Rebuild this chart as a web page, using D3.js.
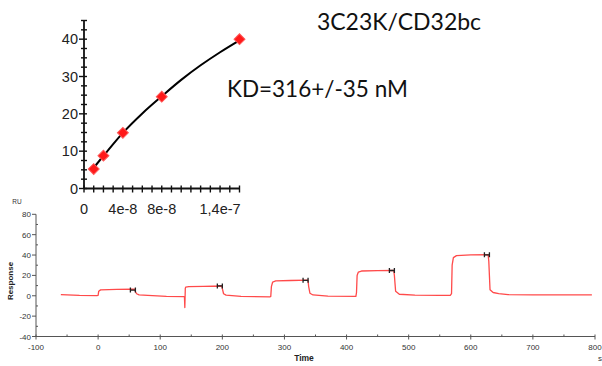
<!DOCTYPE html>
<html>
<head>
<meta charset="utf-8">
<script src="https://cdn.jsdelivr.net/npm/d3@7/dist/d3.min.js"></script>
<style>
  html, body { margin: 0; padding: 0; background: #fff; }
  svg { display: block; }
</style>
</head>
<body>
<script>
// Steady-state affinity: concentration (M) vs equilibrium response (RU)
const concentrations = [1e-8, 2e-8, 4e-8, 8e-8, 1.6e-7];
const responses = [5.2, 8.8, 14.9, 24.6, 40.0];

// Fitted steady-state curve
const fitConc = [0.9e-8, 1e-8, 2e-8, 3e-8, 4e-8, 6e-8, 8e-8, 1e-7, 1.2e-7, 1.4e-7, 1.6e-7];
const fitResp = [4.8, 5.3, 8.7, 11.9, 14.9, 20.1, 24.7, 29.1, 33.0, 36.5, 39.7];

// Affinity axis ticks
const affXTicks = [0, 4e-8, 8e-8, 1.4e-7];
const affXTickLabels = ["0", "4e-8", "8e-8", "1,4e-7"];
const affYTicks = [0, 10, 20, 30, 40];

// Sensorgram trace: time (s) and response (RU)
const sensTime = [-60, -30, -2, 0, 1, 4, 30, 55, 59, 60, 62, 66, 80, 110, 138, 139, 139.6, 140.4, 141, 146, 170, 199, 200, 202, 206, 230, 277, 278, 279, 281, 286, 310, 338, 339, 341, 346, 370, 415, 416, 417, 419, 424, 450, 476, 477, 479, 485, 510, 550, 567, 569, 570, 572, 577, 600, 628, 629, 631, 636, 645, 660, 700, 795];
const sensResp = [1.2, 0.3, 0.2, 0.4, 4.5, 5.8, 6.2, 6.6, 6.4, 4.0, 2.0, 0.8, 0.3, -0.6, -0.8, -1.0, -11.5, 7.5, 8.4, 9.0, 9.3, 9.6, 7.0, 2.0, 0.6, -0.6, -1.0, -0.6, 9.0, 13.5, 14.6, 15.0, 15.3, 9.0, 2.5, 0.8, -0.4, -0.6, 3.0, 20.0, 23.3, 24.3, 24.6, 24.9, 20.0, 4.5, 1.5, 0.6, 0.4, 0.3, 2.0, 30.0, 37.5, 39.4, 40.1, 40.4, 34.0, 6.0, 3.2, 2.2, 1.2, 0.9, 0.8];

// Report-point markers
const markTime = [56, 196, 334, 473, 626];
const markResp = [5.6, 9.7, 15.2, 24.8, 40.2];

// Sensorgram axis ticks
const sensXTicks = [-100, 0, 100, 200, 300, 400, 500, 600, 700, 800];
const sensYTicks = [-40, -20, 0, 20, 40, 60, 80];

const W = 602, H = 366;
const svg = d3.select("body").append("svg").attr("width", W).attr("height", H);
svg.append("rect").attr("width", W).attr("height", H).attr("fill", "#fff");

/* ---------- affinity plot ---------- */
const xA = d3.scaleLinear().domain([0, 1.6e-7]).range([84, 239.5]);
const yA = d3.scaleLinear().domain([0, 45]).range([188.5, 20.5]);
const aff = svg.append("g");
const axisColor = "#111";

// axis lines
aff.append("line").attr("x1", xA(0)).attr("x2", xA(0)).attr("y1", yA(45)).attr("y2", yA(0))
  .attr("stroke", axisColor).attr("stroke-width", 1.8);
aff.append("line").attr("x1", xA(0)).attr("x2", xA(1.6e-7)).attr("y1", yA(0)).attr("y2", yA(0))
  .attr("stroke", axisColor).attr("stroke-width", 1.8);

// y ticks: every 2.5, major every 10
d3.range(0, 45.01, 2.5).forEach(v => {
  const major = v % 10 === 0;
  aff.append("line")
    .attr("x1", xA(0) - (major ? 5 : 3)).attr("x2", xA(0) + 3)
    .attr("y1", yA(v)).attr("y2", yA(v))
    .attr("stroke", axisColor).attr("stroke-width", 1.4);
});
// x ticks: every 1e-8
d3.range(0, 17).forEach(i => {
  const v = i * 1e-8;
  aff.append("line")
    .attr("x1", xA(v)).attr("x2", xA(v))
    .attr("y1", yA(0) - 3).attr("y2", yA(0) + 4)
    .attr("stroke", axisColor).attr("stroke-width", 1.4);
});

aff.selectAll("text.yl").data(affYTicks).enter().append("text")
  .attr("x", 78).attr("y", d => yA(d) + 5)
  .attr("text-anchor", "end")
  .attr("font-family", "Liberation Sans, Arial, sans-serif").attr("font-size", 14.5)
  .attr("fill", "#222").text(d => d);
aff.selectAll("text.xl").data(affXTicks).enter().append("text")
  .attr("x", d => xA(d)).attr("y", 214)
  .attr("text-anchor", "middle")
  .attr("font-family", "Liberation Sans, Arial, sans-serif").attr("font-size", 14.5)
  .attr("fill", "#222").text((d, i) => affXTickLabels[i]);

// fitted curve
const fitLine = d3.line().x(d => xA(d[0])).y(d => yA(d[1])).curve(d3.curveMonotoneX);
aff.append("path").datum(d3.zip(fitConc, fitResp))
  .attr("d", fitLine).attr("fill", "none").attr("stroke", "#000").attr("stroke-width", 2);

// measured points
const diamond = d3.symbol().type(d3.symbolSquare).size(60);
aff.selectAll("path.pt").data(d3.zip(concentrations, responses)).enter().append("path")
  .attr("d", diamond)
  .attr("transform", d => `translate(${xA(d[0])},${yA(d[1])}) rotate(45)`)
  .attr("fill", "#ff1a1a").attr("stroke", "#ff5a5a").attr("stroke-width", 1);

/* ---------- annotations ---------- */
svg.append("text").attr("x", 399).attr("y", 30).attr("text-anchor", "middle")
  .attr("font-family", "Lato, Open Sans, sans-serif").attr("font-size", 23)
  .attr("fill", "#111").text("3C23K/CD32bc");
svg.append("text").attr("x", 227).attr("y", 97)
  .attr("font-family", "Lato, Open Sans, sans-serif").attr("font-size", 22.5)
  .attr("fill", "#111").text("KD=316+/-35 nM");

/* ---------- sensorgram ---------- */
const xS = d3.scaleLinear().domain([-100, 800]).range([36, 595]);
const yS = d3.scaleLinear().domain([-40, 80]).range([336.5, 214.3]);
const sens = svg.append("g");
const gAxis = "#555";

sens.append("line").attr("x1", xS(-100)).attr("x2", xS(-100)).attr("y1", yS(80)).attr("y2", yS(-40))
  .attr("stroke", gAxis).attr("stroke-width", 1);
sens.append("line").attr("x1", xS(-100)).attr("x2", xS(800)).attr("y1", yS(-40)).attr("y2", yS(-40))
  .attr("stroke", gAxis).attr("stroke-width", 1);

d3.range(-40, 80.1, 10).forEach(v => {
  const major = v % 20 === 0;
  sens.append("line")
    .attr("x1", xS(-100) - (major ? 4 : 0)).attr("x2", xS(-100) + (major ? 0 : 2))
    .attr("y1", yS(v)).attr("y2", yS(v))
    .attr("stroke", gAxis).attr("stroke-width", 1);
});
d3.range(-100, 800.1, 50).forEach(v => {
  const major = v % 100 === 0;
  sens.append("line")
    .attr("x1", xS(v)).attr("x2", xS(v))
    .attr("y1", yS(-40) - 2).attr("y2", yS(-40) + (major ? 3 : 0))
    .attr("stroke", gAxis).attr("stroke-width", 1);
});

sens.selectAll("text.syl").data(sensYTicks).enter().append("text")
  .attr("x", 31).attr("y", d => yS(d) + 3)
  .attr("text-anchor", "end")
  .attr("font-family", "Liberation Sans, Arial, sans-serif").attr("font-size", 8)
  .attr("fill", "#333").text(d => d);
sens.selectAll("text.sxl").data(sensXTicks).enter().append("text")
  .attr("x", d => xS(d)).attr("y", 350)
  .attr("text-anchor", "middle")
  .attr("font-family", "Liberation Sans, Arial, sans-serif").attr("font-size", 8)
  .attr("fill", "#333").text(d => d);

sens.append("text").attr("x", 17).attr("y", 204).attr("text-anchor", "middle")
  .attr("font-family", "Liberation Sans, Arial, sans-serif").attr("font-size", 6.5)
  .attr("fill", "#333").text("RU");
sens.append("text").attr("transform", "translate(13,281) rotate(-90)").attr("text-anchor", "middle")
  .attr("font-family", "Liberation Sans, Arial, sans-serif").attr("font-size", 8).attr("font-weight", "bold")
  .attr("fill", "#222").text("Response");
sens.append("text").attr("x", 304).attr("y", 361).attr("text-anchor", "middle")
  .attr("font-family", "Liberation Sans, Arial, sans-serif").attr("font-size", 8.5).attr("font-weight", "bold")
  .attr("fill", "#222").text("Time");
sens.append("text").attr("x", 598).attr("y", 361)
  .attr("font-family", "Liberation Sans, Arial, sans-serif").attr("font-size", 8)
  .attr("fill", "#333").text("s");

const traceLine = d3.line().x(d => xS(d[0])).y(d => yS(d[1]));
sens.append("path").datum(d3.zip(sensTime, sensResp))
  .attr("d", traceLine).attr("fill", "none").attr("stroke", "#ff4a4a").attr("stroke-width", 1.3)
  .attr("stroke-linejoin", "round");

// report-point markers (H shape)
sens.selectAll("path.mk").data(d3.zip(markTime, markResp)).enter().append("path")
  .attr("transform", d => `translate(${xS(d[0])},${yS(d[1])})`)
  .attr("d", "M-2.5,-2.5V2.5M2.5,-2.5V2.5M-2.5,0H2.5")
  .attr("fill", "none").attr("stroke", "#222").attr("stroke-width", 1.3);
</script>
</body>
</html>
